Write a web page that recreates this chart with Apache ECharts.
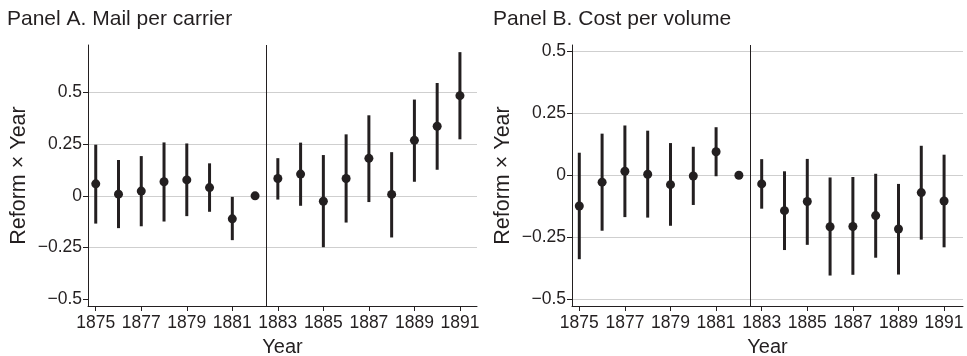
<!DOCTYPE html>
<html>
<head>
<meta charset="utf-8">
<script src="https://cdn.jsdelivr.net/npm/echarts@6/dist/echarts.min.js"></script>
<style>
  html, body { margin: 0; padding: 0; background: #fff; }
  #main { width: 967px; height: 356px; }
</style>
</head>
<body>
<div id="main"></div>
<script>
// event-study coefficients
var years = [1875, 1876, 1877, 1878, 1879, 1880, 1881, 1882, 1883, 1884, 1885, 1886, 1887, 1888, 1889, 1890, 1891];

// Panel A. Mail per carrier
var mailEst = [0.058, 0.008, 0.023, 0.068, 0.077, 0.040, -0.111, 0, 0.084, 0.105, -0.026, 0.084, 0.181, 0.007, 0.268, 0.336, 0.484];
var mailLo = [-0.134, -0.156, -0.147, -0.124, -0.098, -0.077, -0.214, 0, -0.018, -0.048, -0.248, -0.129, -0.030, -0.201, 0.068, 0.126, 0.273];
var mailHi = [0.247, 0.173, 0.192, 0.258, 0.253, 0.157, -0.005, 0, 0.182, 0.257, 0.197, 0.297, 0.389, 0.211, 0.465, 0.545, 0.694];

// Panel B. Cost per volume
var costEst = [-0.124, -0.028, 0.016, 0.004, -0.038, -0.003, 0.095, 0, -0.035, -0.143, -0.106, -0.208, -0.207, -0.163, -0.217, -0.070, -0.104];
var costLo = [-0.339, -0.224, -0.169, -0.171, -0.204, -0.120, -0.004, 0, -0.135, -0.302, -0.281, -0.405, -0.402, -0.333, -0.401, -0.260, -0.291];
var costHi = [0.091, 0.168, 0.201, 0.180, 0.130, 0.115, 0.194, 0, 0.065, 0.016, 0.066, -0.009, -0.007, 0.006, -0.035, 0.119, 0.083];

var xTicks = [1875, 1877, 1879, 1881, 1883, 1885, 1887, 1889, 1891];
var yTicks = [-0.5, -0.25, 0, 0.25, 0.5];
var reformYear = 1882.5;

var FONT = '"Liberation Sans", Arial, Helvetica, sans-serif';
var INK = '#231f20';
var GRID = '#cfcfcf';

function fmtTick(v) {
    if (v === 0) return '0';
    return (v < 0 ? '\u2212' : '') + String(Math.abs(v));
}

function pairs(est) {
    var out = [];
    for (var i = 0; i < years.length; i++) out.push([years[i], est[i]]);
    return out;
}

function bars(lo, hi) {
    var out = [];
    for (var i = 0; i < years.length; i++) {
        if (lo[i] === hi[i]) continue; // reference year has no interval
        out.push([years[i], lo[i], hi[i]]);
    }
    return out;
}

function renderBar(params, api) {
    var a = api.coord([api.value(0), api.value(1)]);
    var b = api.coord([api.value(0), api.value(2)]);
    return {
        type: 'line',
        shape: { x1: a[0], y1: a[1], x2: b[0], y2: b[1] },
        style: { stroke: INK, lineWidth: 3 }
    };
}

function xAxisFor(idx, min, max) {
    return {
        type: 'value', gridIndex: idx, min: min, max: max,
        name: 'Year', nameLocation: 'middle', nameGap: 31,
        nameTextStyle: { color: INK, fontSize: 20, fontFamily: FONT },
        axisLine: { show: true, onZero: false, lineStyle: { color: INK, width: 1 } },
        axisTick: { show: true, length: 5, customValues: xTicks, lineStyle: { color: INK } },
        axisLabel: {
            customValues: xTicks, color: INK, fontSize: 17.5, fontFamily: FONT, margin: 8,
            formatter: function (v) { return String(v); }
        },
        splitLine: { show: false }
    };
}

// gridColors: one colour per y tick, bottom to top
function yAxisFor(idx, min, max, gridColors) {
    return {
        type: 'value', gridIndex: idx, min: min, max: max,
        name: 'Reform \u00d7 Year', nameLocation: 'middle', nameGap: 58, nameRotate: 90,
        nameTextStyle: { color: INK, fontSize: 21.5, fontFamily: FONT },
        axisLine: { show: true, onZero: false, lineStyle: { color: INK, width: 1 } },
        axisTick: { show: true, length: 5, customValues: yTicks, lineStyle: { color: INK } },
        axisLabel: { customValues: yTicks, color: INK, fontSize: 17.5, fontFamily: FONT, margin: 6, formatter: fmtTick },
        splitLine: { show: true, lineStyle: { color: gridColors, width: 1 } }
    };
}

function panelSeries(idx, est, lo, hi) {
    return [
        {
            type: 'custom', xAxisIndex: idx, yAxisIndex: idx,
            renderItem: renderBar, encode: { x: 0, y: [1, 2] },
            data: bars(lo, hi), silent: true, z: 2
        },
        {
            type: 'scatter', xAxisIndex: idx, yAxisIndex: idx,
            symbol: 'circle', symbolSize: 9,
            itemStyle: { color: INK, opacity: 1 },
            data: pairs(est), silent: true, z: 3,
            markLine: {
                silent: true, symbol: 'none', label: { show: false },
                lineStyle: { color: INK, width: 1, type: 'solid', opacity: 1 },
                data: [{ xAxis: reformYear }]
            }
        }
    ];
}

var chart = echarts.init(document.getElementById('main'), null, { renderer: 'canvas' });
var option = {
    animation: false,
    backgroundColor: '#fff',
    title: [
        { text: 'Panel A. Mail per carrier', left: 2, top: 4, textStyle: { color: INK, fontSize: 21, fontWeight: 'normal', fontFamily: FONT } },
        { text: 'Panel B. Cost per volume', left: 488, top: 4, textStyle: { color: INK, fontSize: 21, fontWeight: 'normal', fontFamily: FONT } }
    ],
    grid: [
        { left: 88, top: 45, width: 389, height: 261, outerBoundsMode: 'none', containLabel: false },
        { left: 572, top: 45, width: 391, height: 261, outerBoundsMode: 'none', containLabel: false }
    ],
    xAxis: [xAxisFor(0, 1874.66, 1891.75), xAxisFor(1, 1874.68, 1891.83)],
    yAxis: [
        yAxisFor(0, -0.532, 0.7285, ['rgba(0,0,0,0)', GRID, GRID, GRID, GRID]),
        yAxisFor(1, -0.528, 0.526, [GRID])
    ],
    series: panelSeries(0, mailEst, mailLo, mailHi).concat(panelSeries(1, costEst, costLo, costHi))
};
chart.setOption(option);
</script>
</body>
</html>
